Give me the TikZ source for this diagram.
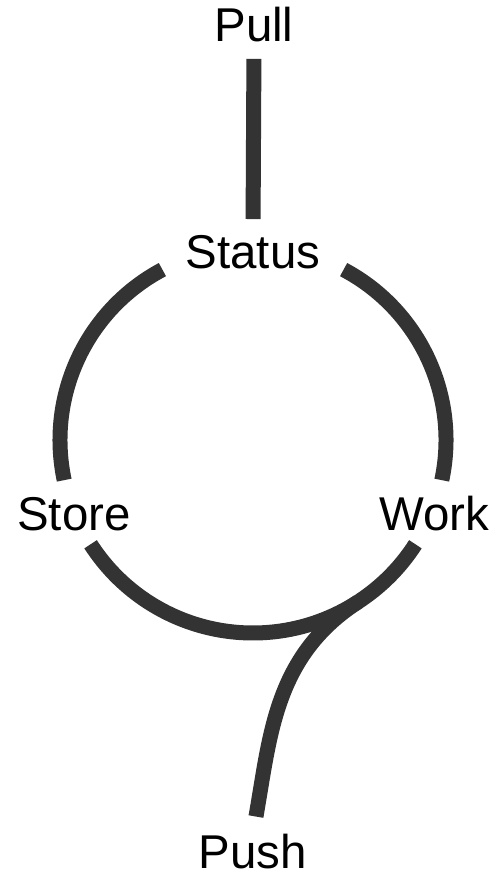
\documentclass[tikz,border=0pt]{standalone}
\usepackage{fontspec}
\setmainfont{Liberation Sans}
\usepackage{tikz}
\definecolor{bandgray}{HTML}{333333}

\begin{document}
\begin{tikzpicture}[x=0.02cm, y=0.02cm]
      \tikzstyle{word} = [inner sep=0pt, anchor=base,
                          font=\fontsize{27}{31}\selectfont]
      \tikzstyle{band} = [draw=bandgray, line width=0.3cm]

      \useasboundingbox (0,0) rectangle (501,-875);

      \node[word] (pull)   at (254,-42)  {Pull};
      \node[word] (status) at (253,-268) {Status};
      \node[word] (store)  at (74,-530)  {Store};
      \node[word] (work)   at (434,-530) {Work};
      \node[word] (push)   at (253,-868) {Push};
      \coordinate (hub)   at (253,-440);
      \coordinate (merge) at ([shift={(-57:193)}]hub);

      \draw[band, shorten <=0.32cm, shorten >=0.31cm] (pull.south) -- (status.north);
      \draw[band] ([shift={(118:193)}]hub) arc[start angle=118, end angle=192, radius=193];
      \draw[band] ([shift={(62:193)}]hub) arc[start angle=62, end angle=-12, radius=193];
      \draw[band] ([shift={(212.7:193)}]hub) arc[start angle=212.7, end angle=327.3, radius=193];
      \draw[band, shorten <=0.34cm] (push.north) to[out=80, in=213] (merge);
    \end{tikzpicture}
\end{document}
